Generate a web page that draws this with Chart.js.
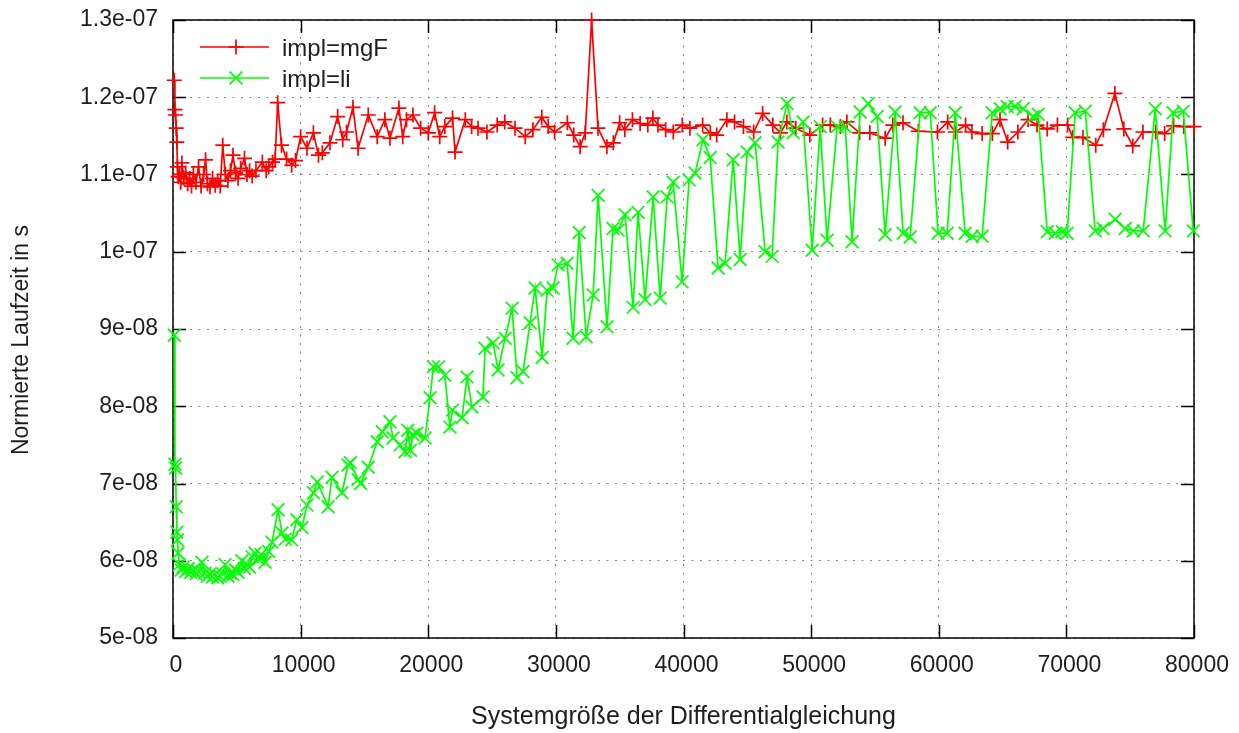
<!DOCTYPE html>
<html>
<head>
<meta charset="utf-8">
<script src="https://cdn.jsdelivr.net/npm/chart.js@4.4.1/dist/chart.umd.min.js"></script>
<style>
  html, body { margin: 0; padding: 0; background: #ffffff; }
  #wrap { width: 1239px; height: 733px; position: relative; }
</style>
</head>
<body>
<div id="wrap"><canvas id="c"></canvas></div>
<script>
// Tick labels and axis titles
const xTickLabels = ['0', '10000', '20000', '30000', '40000', '50000', '60000', '70000', '80000'];
const yTickLabels = ['5e-08', '6e-08', '7e-08', '8e-08', '9e-08', '1e-07', '1.1e-07', '1.2e-07', '1.3e-07'];
const xTitle = 'Systemgröße der Differentialgleichung';
const yTitle = 'Normierte Laufzeit in s';

// impl=mgF : system size and normalised run time (s)
const sizesMgF = [
  100, 150, 200, 250, 300, 350, 400, 500, 600, 700, 850, 1000, 1150, 1300, 1450, 1600, 1800, 2000,
  2200, 2400, 2550, 2700, 2900, 3100, 3300, 3500, 3700, 3900, 4100, 4300, 4500, 4700, 4900, 5100,
  5300, 5600, 5800, 6000, 6200, 6500, 7000, 7300, 7500, 7800, 8000, 8200, 8500, 8900, 9300, 9600,
  10000, 10500, 11000, 11400, 11700, 12300, 12900, 13300, 13600, 14100, 14500, 15300, 16000, 16600,
  17000, 17700, 18000, 18300, 18800, 19400, 20000, 20500, 20900, 21300, 21900, 22100, 22900, 23400,
  23900, 24600, 25400, 26000, 26800, 27600, 28200, 28900, 29400, 29900, 30900, 31400, 31900, 32300,
  32800, 33300, 34000, 34500, 35000, 35400, 36000, 36600, 37200, 37600, 38000, 38600, 39200, 39900,
  40500, 41500, 42100, 42600, 43400, 44000, 44700, 45500, 46200, 47000, 47600, 48100, 48800, 49900,
  50900, 51500, 52300, 52800, 53800, 54600, 55800, 56400, 57200, 58400, 59900, 60700, 61300, 62100,
  62600, 63400, 64200, 64800, 65400, 66200, 67000, 67700, 68500, 69300, 70100, 70500, 71300, 72300,
  72900, 73800, 74500, 75200, 76000, 77000, 77700, 78400, 79200, 80000
];
const timeMgF = [
  12.22e-8, 11.84e-8, 11.77e-8, 11.60e-8, 11.42e-8, 11.10e-8, 10.97e-8, 11.00e-8, 10.90e-8, 11.15e-8,
  10.95e-8, 11.02e-8, 10.88e-8, 10.95e-8, 10.85e-8, 11.00e-8, 10.90e-8, 11.10e-8, 10.85e-8, 11.00e-8,
  11.19e-8, 10.88e-8, 10.84e-8, 10.95e-8, 10.86e-8, 10.92e-8, 10.85e-8, 11.38e-8, 11.00e-8, 10.92e-8,
  11.05e-8, 11.25e-8, 11.02e-8, 10.95e-8, 11.08e-8, 11.21e-8, 11.00e-8, 11.05e-8, 10.98e-8, 11.05e-8,
  11.16e-8, 11.05e-8, 11.10e-8, 11.16e-8, 11.20e-8, 11.93e-8, 11.38e-8, 11.20e-8, 11.12e-8, 11.18e-8,
  11.49e-8, 11.34e-8, 11.54e-8, 11.25e-8, 11.28e-8, 11.41e-8, 11.75e-8, 11.45e-8, 11.55e-8, 11.87e-8,
  11.34e-8, 11.77e-8, 11.49e-8, 11.71e-8, 11.47e-8, 11.86e-8, 11.49e-8, 11.71e-8, 11.77e-8, 11.60e-8,
  11.54e-8, 11.80e-8, 11.49e-8, 11.62e-8, 11.73e-8, 11.29e-8, 11.71e-8, 11.62e-8, 11.60e-8, 11.55e-8,
  11.64e-8, 11.68e-8, 11.60e-8, 11.49e-8, 11.58e-8, 11.74e-8, 11.62e-8, 11.55e-8, 11.67e-8, 11.51e-8,
  11.36e-8, 11.54e-8, 13.00e-8, 11.60e-8, 11.36e-8, 11.41e-8, 11.67e-8, 11.58e-8, 11.71e-8, 11.66e-8,
  11.64e-8, 11.73e-8, 11.64e-8, 11.58e-8, 11.55e-8, 11.64e-8, 11.60e-8, 11.64e-8, 11.54e-8, 11.51e-8,
  11.71e-8, 11.68e-8, 11.62e-8, 11.55e-8, 11.79e-8, 11.64e-8, 11.54e-8, 11.68e-8, 11.60e-8, 11.51e-8,
  11.64e-8, 11.64e-8, 11.62e-8, 11.68e-8, 11.54e-8, 11.54e-8, 11.47e-8, 11.64e-8, 11.67e-8, 11.56e-8,
  11.55e-8, 11.68e-8, 11.55e-8, 11.64e-8, 11.55e-8, 11.53e-8, 11.53e-8, 11.71e-8, 11.42e-8, 11.55e-8,
  11.71e-8, 11.64e-8, 11.59e-8, 11.64e-8, 11.64e-8, 11.48e-8, 11.48e-8, 11.38e-8, 11.58e-8, 12.05e-8,
  11.59e-8, 11.37e-8, 11.55e-8, 11.55e-8, 11.53e-8, 11.63e-8, 11.62e-8, 11.62e-8
];

// impl=li : system size and normalised run time (s)
const sizesLi = [
  100, 150, 200, 250, 300, 350, 400, 500, 650, 800, 1000, 1200, 1400, 1600, 1800, 2000, 2270, 2500,
  2700, 2900, 3100, 3300, 3500, 3700, 3900, 4080, 4300, 4500, 4700, 4900, 5100, 5400, 5600, 5800,
  6000, 6200, 6430, 6700, 6900, 7210, 7500, 7760, 8230, 8540, 8800, 9300, 9700, 10100, 10500, 11000,
  11300, 12150, 12460, 13240, 13710, 13900, 14500, 14700, 15300, 16000, 16400, 17000, 17240, 17800,
  18180, 18400, 18600, 18800, 19100, 19750, 20140, 20400, 20800, 21300, 21700, 21900, 22650, 23040,
  23430, 24290, 24450, 25080, 25470, 26020, 26570, 26960, 27430, 27980, 28370, 28920, 29310, 29780,
  30170, 30880, 31350, 31820, 32370, 32920, 33310, 34010, 34480, 34880, 35420, 36050, 36440, 36990,
  37620, 38170, 38720, 39190, 39890, 40440, 40910, 41530, 42090, 42710, 43260, 43890, 44440, 44990,
  45610, 46400, 46940, 47410, 48120, 48590, 49370, 50080, 50710, 51250, 52040, 52670, 53210, 53840,
  54470, 55170, 55800, 56580, 57210, 57760, 58540, 59330, 59950, 60660, 61290, 62070, 62620, 63400,
  64190, 64810, 65360, 65990, 66610, 67400, 67790, 68500, 69120, 69670, 70060, 70690, 71480, 72260,
  72880, 73820, 74610, 75240, 76020, 76960, 77740, 78370, 79160, 79940
];
const timeLi = [
  8.92e-8, 7.25e-8, 7.20e-8, 6.70e-8, 6.37e-8, 6.27e-8, 6.10e-8, 5.95e-8, 5.88e-8, 5.92e-8,
  5.86e-8, 5.90e-8, 5.85e-8, 5.88e-8, 5.83e-8, 5.86e-8, 5.98e-8, 5.84e-8, 5.80e-8, 5.83e-8,
  5.79e-8, 5.82e-8, 5.78e-8, 5.80e-8, 5.83e-8, 5.95e-8, 5.80e-8, 5.84e-8, 5.82e-8, 5.88e-8,
  5.85e-8, 6.00e-8, 5.90e-8, 5.95e-8, 5.92e-8, 6.05e-8, 6.10e-8, 6.02e-8, 6.08e-8, 5.98e-8,
  6.12e-8, 6.24e-8, 6.66e-8, 6.36e-8, 6.28e-8, 6.27e-8, 6.53e-8, 6.43e-8, 6.72e-8, 6.88e-8,
  7.02e-8, 6.70e-8, 7.08e-8, 6.88e-8, 7.24e-8, 7.27e-8, 7.05e-8, 7.00e-8, 7.21e-8, 7.54e-8,
  7.67e-8, 7.80e-8, 7.59e-8, 7.50e-8, 7.41e-8, 7.69e-8, 7.43e-8, 7.63e-8, 7.65e-8, 7.59e-8,
  8.11e-8, 8.51e-8, 8.51e-8, 8.40e-8, 7.73e-8, 7.95e-8, 7.85e-8, 8.38e-8, 7.99e-8, 8.12e-8,
  8.75e-8, 8.82e-8, 8.47e-8, 8.88e-8, 9.27e-8, 8.37e-8, 8.45e-8, 9.08e-8, 9.53e-8, 8.63e-8,
  9.50e-8, 9.53e-8, 9.83e-8, 9.85e-8, 8.88e-8, 10.25e-8, 8.90e-8, 9.44e-8, 10.73e-8, 9.03e-8,
  10.30e-8, 10.28e-8, 10.48e-8, 9.28e-8, 10.51e-8, 9.38e-8, 10.71e-8, 9.40e-8, 10.71e-8, 10.90e-8,
  9.61e-8, 10.93e-8, 11.02e-8, 11.45e-8, 11.22e-8, 9.79e-8, 9.85e-8, 11.19e-8, 9.90e-8, 11.29e-8,
  11.41e-8, 10.00e-8, 9.94e-8, 11.42e-8, 11.92e-8, 11.54e-8, 11.68e-8, 10.02e-8, 11.62e-8, 10.15e-8,
  11.62e-8, 11.62e-8, 10.13e-8, 11.81e-8, 11.92e-8, 11.75e-8, 10.22e-8, 11.81e-8, 10.24e-8, 10.19e-8,
  11.80e-8, 11.80e-8, 10.24e-8, 10.24e-8, 11.80e-8, 10.24e-8, 10.20e-8, 10.20e-8, 11.80e-8, 11.85e-8,
  11.88e-8, 11.88e-8, 11.85e-8, 11.75e-8, 11.78e-8, 10.26e-8, 10.24e-8, 10.26e-8, 10.24e-8, 11.80e-8,
  11.82e-8, 10.27e-8, 10.30e-8, 10.42e-8, 10.30e-8, 10.27e-8, 10.27e-8, 11.85e-8, 10.27e-8, 11.80e-8,
  11.82e-8, 10.27e-8
];

const toPoints = (xs, ys) => xs.map((x, i) => ({ x: x, y: ys[i] }));

const FONT = '"Liberation Sans", Arial, sans-serif';
const TEXT_COLOR = '#1e1e1e';
Chart.defaults.font.family = FONT;
Chart.defaults.font.size = 23;
Chart.defaults.color = TEXT_COLOR;

// Fixed plot box: the axes reserve exact room and ask for no extra label overhang
const fixLeft = s => { s.width = 173; s.paddingTop = 0; s.paddingBottom = 0; };
const fixBottom = s => { s.height = 95; s.paddingLeft = 0; s.paddingRight = 0; };

// Box border, inward tick marks, the vertical axis title and the in-plot key
const frameAndKey = {
  id: 'frameAndKey',
  beforeDatasetsDraw(chart) {
    const { ctx, chartArea: a, scales: { x, y } } = chart;
    const len = 13;
    ctx.save();
    ctx.strokeStyle = '#000000';
    ctx.lineWidth = 1.5;
    ctx.beginPath();
    x.ticks.forEach(t => {
      const px = Math.round(x.getPixelForValue(t.value)) + 0.5;
      ctx.moveTo(px, a.bottom); ctx.lineTo(px, a.bottom - len);
      ctx.moveTo(px, a.top); ctx.lineTo(px, a.top + len);
    });
    y.ticks.forEach(t => {
      const py = Math.round(y.getPixelForValue(t.value)) + 0.5;
      ctx.moveTo(a.left, py); ctx.lineTo(a.left + len, py);
      ctx.moveTo(a.right, py); ctx.lineTo(a.right - len, py);
    });
    ctx.stroke();
    ctx.strokeRect(a.left, a.top, a.right - a.left, a.bottom - a.top);

    // vertical axis title, read bottom to top
    ctx.translate(22, 340);
    ctx.rotate(-Math.PI / 2);
    ctx.fillStyle = TEXT_COLOR;
    ctx.font = '23px ' + FONT;
    ctx.textAlign = 'center';
    ctx.textBaseline = 'middle';
    ctx.fillText(yTitle, 0, 0);
    ctx.restore();
  },
  afterDatasetsDraw(chart) {
    const { ctx } = chart;
    const rows = [47, 78];
    ctx.save();
    chart.data.datasets.forEach((ds, i) => {
      const yRow = rows[i];
      ctx.strokeStyle = ds.borderColor;
      ctx.lineWidth = ds.borderWidth;
      ctx.beginPath();
      ctx.moveTo(200, yRow);
      ctx.lineTo(269, yRow);
      ctx.stroke();
      Chart.helpers.drawPoint(ctx, {
        pointStyle: ds.pointStyle,
        radius: ds.pointRadius,
        borderWidth: ds.pointBorderWidth,
        rotation: 0
      }, 236, yRow);
      ctx.fillStyle = TEXT_COLOR;
      ctx.font = '24px ' + FONT;
      ctx.textAlign = 'left';
      ctx.textBaseline = 'middle';
      ctx.fillText(ds.label, 282, yRow + 2);
    });
    ctx.restore();
  }
};

new Chart(document.getElementById('c'), {
  type: 'line',
  data: {
    datasets: [
      {
        label: 'impl=mgF',
        data: toPoints(sizesMgF, timeMgF),
        borderColor: '#ff0000',
        backgroundColor: '#ff0000',
        borderWidth: 1.7,
        pointStyle: 'cross',
        pointRadius: 7.5,
        pointBorderWidth: 1.7,
        pointBorderColor: '#ff0000',
        tension: 0,
        fill: false,
        clip: false,
        order: 1
      },
      {
        label: 'impl=li',
        data: toPoints(sizesLi, timeLi),
        borderColor: '#00ff00',
        backgroundColor: '#00ff00',
        borderWidth: 1.7,
        pointStyle: 'crossRot',
        pointRadius: 9,
        pointBorderWidth: 1.7,
        pointBorderColor: '#00ff00',
        tension: 0,
        fill: false,
        clip: false,
        order: 0
      }
    ]
  },
  options: {
    responsive: true,
    maintainAspectRatio: false,
    animation: false,
    events: [],
    layout: { padding: { top: 20, right: 45, left: 44, bottom: 0 } },
    plugins: {
      legend: { display: false },
      tooltip: { enabled: false }
    },
    scales: {
      x: {
        type: 'linear',
        min: 0,
        max: 80000,
        afterFit: fixBottom,
        grid: { color: '#8c8c8c', lineWidth: 1, drawTicks: false },
        border: { display: false, dash: [2, 6.5] },
        ticks: {
          stepSize: 10000,
          padding: 14,
          labelOffset: 3,
          maxRotation: 0,
          autoSkip: false,
          callback: (v, i) => xTickLabels[i]
        },
        title: {
          display: true,
          text: xTitle,
          font: { size: 25 },
          padding: { top: 0, bottom: 1 }
        }
      },
      y: {
        type: 'linear',
        min: 5e-8,
        max: 1.3e-7,
        afterFit: s => { s.width = 129; s.paddingTop = 0; s.paddingBottom = 0; },
        grid: { color: '#8c8c8c', lineWidth: 1, drawTicks: false },
        border: { display: false, dash: [2, 6.5] },
        ticks: {
          stepSize: 1e-8,
          padding: 15,
          autoSkip: false,
          callback: (v, i) => yTickLabels[i]
        }
      }
    }
  },
  plugins: [frameAndKey]
});
</script>
</body>
</html>
